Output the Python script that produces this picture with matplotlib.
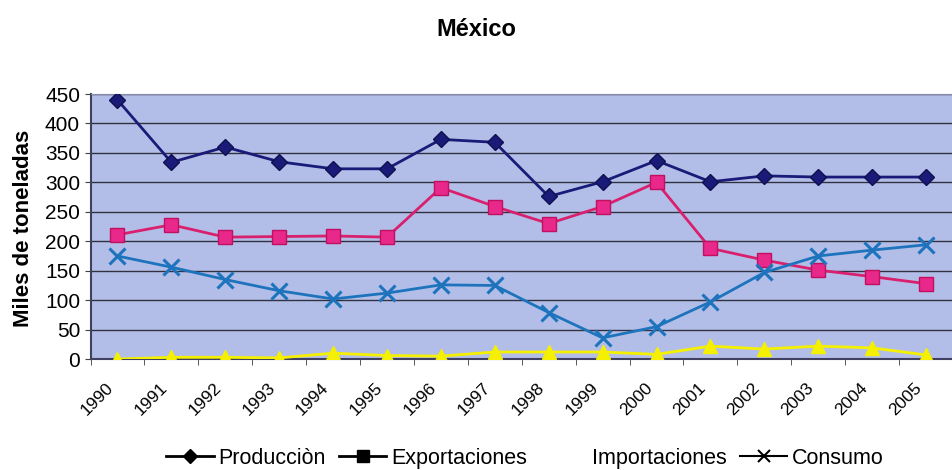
import numpy as np
import matplotlib
matplotlib.use('Agg')
import matplotlib.pyplot as plt
import matplotlib.transforms as mtrans
from matplotlib.lines import Line2D
plt.rcParams["font.family"] = ["Liberation Sans", "DejaVu Sans"]

years = [str(y) for y in range(1990, 2006)]
produccion = [440, 334, 360, 335, 323, 323, 373, 368, 276, 301, 337, 301, 311, 309, 309, 309]
exportaciones = [211, 228, 207, 208, 209, 207, 291, 259, 230, 259, 300, 188, 168, 151, 140, 128]
importaciones = [0, 3, 3, 2, 10, 6, 5, 12, 12, 12, 8, 22, 17, 22, 19, 7]
consumo = [175, 156, 135, 116, 102, 112, 126, 125, 79, 36, 55, 97, 147, 175, 185, 194]

fig = plt.figure(figsize=(9.53, 4.7), dpi=100)
ax = fig.add_axes([0.095, 0.236, 0.905, 0.564])
ax.set_facecolor("#B3BEE8")

x = np.arange(len(years))
ax.plot(x, produccion, color="#1A1A78", lw=2, marker="D", ms=8, mfc="#1A1A78", mec="#101050", zorder=4)
ax.plot(x, exportaciones, color="#D8206E", lw=2, marker="s", ms=10, mfc="#E8288A", mec="#C01060", zorder=4)
ax.plot(x, importaciones, color="#F4F000", lw=2, marker="^", ms=10, mfc="#F4F000", mec="#F4F000", zorder=4)
ax.plot(x, consumo, color="#1E74BC", lw=2, marker="x", ms=11, mew=2.2, zorder=4)

ax.set_xlim(-0.5, len(years) - 0.5)
ax.set_ylim(0, 450)
ax.set_yticks(range(0, 451, 50))
ax.yaxis.grid(True, color="#303040", lw=1.0)
ax.set_axisbelow(True)

# year labels, rotated, ticks between categories like the original
ax.set_xticks(x)
ax.set_xticklabels(years, rotation=45, ha="right", rotation_mode="anchor", fontsize=12.5)
ax.set_xticks(np.arange(-0.5, len(years), 1), minor=True)
ax.tick_params(axis="x", which="major", length=0, pad=15)
ax.tick_params(axis="x", which="minor", length=4, color="#404040")
ax.tick_params(axis="y", labelsize=15, length=4, color="#404040")
shift = mtrans.ScaledTranslation(-0.12, 0, fig.dpi_scale_trans)
for lab in ax.get_xticklabels():
    lab.set_transform(lab.get_transform() + shift)

for side in ["left", "bottom"]:
    ax.spines[side].set_color("#404060")
    ax.spines[side].set_linewidth(1.5)
for side in ["top", "right"]:
    ax.spines[side].set_color("#8888AA")

ax.set_ylabel("Miles de toneladas", fontsize=16, fontweight="bold")
ax.yaxis.set_label_coords(-0.065, 0.494)
fig.suptitle("México", fontsize=17, fontweight="bold", y=0.962)

handles = [
    Line2D([], [], color="black", lw=2, marker="D", ms=7),
    Line2D([], [], color="black", lw=2, marker="s", ms=8),
    Line2D([], [], color="white", lw=0),
    Line2D([], [], color="black", lw=1.5, marker="x", ms=9, mew=1.5),
]
labels = ["Producciòn", "Exportaciones", "Importaciones", "Consumo"]
fig.legend(handles, labels, loc="center", bbox_to_anchor=(0.551, 0.025), ncol=4,
           frameon=False, fontsize=15.5, handlelength=2.2, handletextpad=0.23,
           columnspacing=0.6, borderaxespad=0, borderpad=0)

fig.savefig("out.png", dpi=100)
